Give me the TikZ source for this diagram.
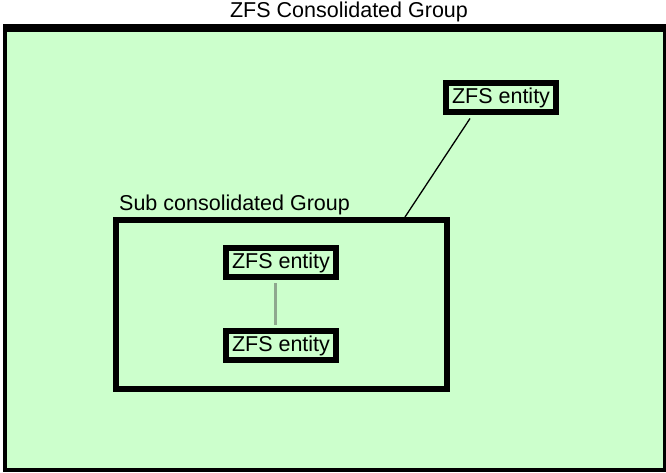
\documentclass[tikz,border=0pt]{standalone}
\usepackage{fontspec}
\setmainfont{Liberation Sans}
\definecolor{zfsgreen}{HTML}{CCFFCC}
\definecolor{linkgray}{HTML}{8FA88F}
\begin{document}
\begin{tikzpicture}[x=1pt,y=-1pt,
  every node/.style={font=\fontsize{21.5}{24}\selectfont},
  entity/.style={draw,line width=6pt,fill=zfsgreen,inner sep=0pt,minimum width=110pt,minimum height=29pt},
  groupbox/.style={draw,line width=6pt,fill=zfsgreen,inner sep=0pt}]
\useasboundingbox (0,0) rectangle (666,473);
% outer group
\fill [zfsgreen] (5,28) rectangle (665,470);
\draw [line width=4pt] (5,28) rectangle (665,470);
\draw [line width=8pt] (3,28)-- (667,28);
\node (title) at (349,12) {ZFS Consolidated Group};
% sub group
\node [groupbox,minimum width=331pt,minimum height=169pt] (sub) at (281,304.5) {};
\node [anchor=base west,inner sep=0pt] (sublabel) at (119,211) {Sub consolidated Group};
% entities
\node [entity] (top) at (501,98) {ZFS entity};
\node [entity] (upper) at (281,262.5) {ZFS entity};
\node [entity] (lower) at (281,345.5) {ZFS entity};
\draw [line width=1.3pt] ([xshift=-31pt,yshift=-3pt]top.south)-- ([xshift=124pt]sub.north);
\draw [line width=3pt,color=linkgray] ([xshift=-6pt,yshift=-3pt]upper.south)-- ([xshift=-6pt,yshift=3pt]lower.north);
\end{tikzpicture}
\end{document}
